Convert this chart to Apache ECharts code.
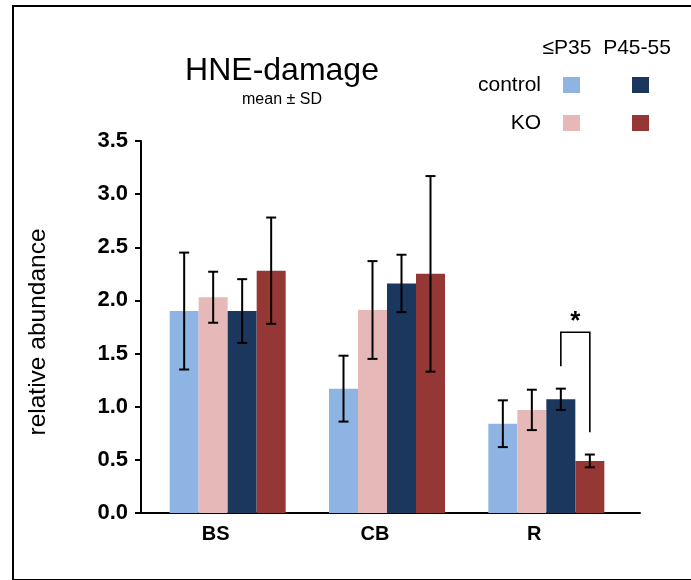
<!DOCTYPE html>
<html>
<head>
<meta charset="utf-8">
<script src="https://cdn.jsdelivr.net/npm/echarts@6/dist/echarts.min.js"></script>
<style>html,body{margin:0;padding:0;background:#fff;}#chart{width:691px;height:580px;}</style>
</head>
<body>
<div id="chart"></div>
<script>
// ---- data ----
const categories = ['BS', 'CB', 'R'];
const controlP35 = [1.90, 1.17, 0.84];
const koP35      = [2.03, 1.91, 0.97];
const controlP45 = [1.90, 2.16, 1.07];
const koP45      = [2.28, 2.25, 0.49];
const sdControlP35 = [0.55, 0.31, 0.22];
const sdKoP35      = [0.24, 0.46, 0.19];
const sdControlP45 = [0.30, 0.27, 0.10];
const sdKoP45      = [0.50, 0.92, 0.06];
const yMin = 0, yMax = 3.5, yStep = 0.5;
// significance bracket: [categoryIndex, seriesFrom, seriesTo, topValue, leftEndValue, rightEndValue, labelValue]
const sigBracket = [2, 2, 3, 1.70, 1.38, 0.76, 1.80];
const sigLabel = '*';
const legendCols = ['≤P35', 'P45-55'];
const legendRows = ['control', 'KO'];

// ---- styles ----
const FONT = 'Liberation Sans, Arial, sans-serif';
const colors = ['#8EB4E3', '#E6B9B8', '#1B375E', '#953735'];
const BAR_W = 29;

const means = [controlP35, koP35, controlP45, koP45];
const sds = [sdControlP35, sdKoP35, sdControlP45, sdKoP45];
const names = ['control ≤P35', 'KO ≤P35', 'control P45-55', 'KO P45-55'];

const errData = [];
means.forEach((arr, k) => arr.forEach((m, i) => errData.push([i, m, sds[k][i], k])));

const barSeries = means.map((arr, k) => ({
  name: names[k], type: 'bar', xAxisIndex: 1, yAxisIndex: 1,
  data: arr, barWidth: BAR_W, barGap: '0%',
  itemStyle: { color: colors[k] }, z: 2
}));

const chart = echarts.init(document.getElementById('chart'), null, { renderer: 'canvas' });
chart.setOption({
  animation: false,
  backgroundColor: '#fff',
  grid: [
    { left: 141, right: 51, top: 141, bottom: 67 },
    { left: 148, right: 65, top: 141, bottom: 67 }
  ],
  xAxis: [
    { gridIndex: 0, type: 'value', min: 0, max: 1,
      axisLine: { show: true, lineStyle: { color: '#000', width: 2 } },
      axisTick: { show: false }, axisLabel: { show: false }, splitLine: { show: false } },
    { gridIndex: 1, type: 'category', data: categories,
      axisLine: { show: false }, axisTick: { show: false },
      axisLabel: { color: '#000', fontSize: 20, fontWeight: 'bold', fontFamily: FONT, margin: 11,
        padding: [0, 24, 0, 0] } }
  ],
  yAxis: [
    { gridIndex: 0, type: 'value', min: yMin, max: yMax, interval: yStep,
      name: 'relative abundance', nameLocation: 'middle', nameGap: 90,
      nameTextStyle: { color: '#000', fontSize: 24.5, fontFamily: FONT, padding: [0, 10, 0, 0] },
      axisLine: { show: true, lineStyle: { color: '#000', width: 2 } },
      axisTick: { show: true, length: 6, lineStyle: { color: '#000', width: 2 } },
      axisLabel: { color: '#000', fontSize: 22, fontWeight: 'bold', fontFamily: FONT, margin: 13,
        formatter: v => v.toFixed(1) },
      splitLine: { show: false } },
    { gridIndex: 1, type: 'value', min: yMin, max: yMax, show: false, splitLine: { show: false } }
  ],
  series: barSeries.concat([
    {
      type: 'custom', xAxisIndex: 1, yAxisIndex: 1, z: 5,
      data: errData, encode: { x: 0, y: 1 },
      renderItem: function (params, api) {
        const cat = api.value(0), m = api.value(1), sd = api.value(2), k = api.value(3);
        const top = api.coord([cat, m + sd]);
        const bot = api.coord([cat, m - sd]);
        const x = top[0] + (k - 1.5) * BAR_W;
        const st = { stroke: '#000', lineWidth: 2 };
        return { type: 'group', children: [
          { type: 'line', shape: { x1: x, y1: top[1], x2: x, y2: bot[1] }, style: st },
          { type: 'line', shape: { x1: x - 5, y1: top[1], x2: x + 5, y2: top[1] }, style: st },
          { type: 'line', shape: { x1: x - 5, y1: bot[1], x2: x + 5, y2: bot[1] }, style: st }
        ] };
      }
    },
    {
      type: 'custom', xAxisIndex: 1, yAxisIndex: 1, z: 5,
      data: [sigBracket], encode: { x: 0, y: 3 },
      renderItem: function (params, api) {
        const cat = api.value(0), k1 = api.value(1), k2 = api.value(2);
        const pTop = api.coord([cat, api.value(3)]);
        const pL = api.coord([cat, api.value(4)]);
        const pR = api.coord([cat, api.value(5)]);
        const pS = api.coord([cat, api.value(6)]);
        const x1 = pTop[0] + (k1 - 1.5) * BAR_W;
        const x2 = pTop[0] + (k2 - 1.5) * BAR_W;
        const st = { stroke: '#000', lineWidth: 1.6, fill: null };
        return { type: 'group', children: [
          { type: 'polyline', shape: { points: [[x1, pL[1]], [x1, pTop[1]], [x2, pTop[1]], [x2, pR[1]]] }, style: st },
          { type: 'text', x: (x1 + x2) / 2, y: pS[1],
            style: { text: sigLabel, fill: '#000', font: 'bold 26px ' + FONT, textAlign: 'center', textVerticalAlign: 'middle' } }
        ] };
      }
    }
  ]),
  graphic: [
    { type: 'rect', shape: { x: 13, y: 6, width: 720, height: 574 }, style: { fill: null, stroke: '#000', lineWidth: 2 }, silent: true },
    { type: 'text', x: 282, y: 71, style: { text: 'HNE-damage', fill: '#000', font: '32px ' + FONT, textAlign: 'center', textVerticalAlign: 'middle' } },
    { type: 'text', x: 282, y: 100, style: { text: 'mean ± SD', fill: '#000', font: '16px ' + FONT, textAlign: 'center', textVerticalAlign: 'middle' } },
    { type: 'text', x: 567, y: 48, style: { text: legendCols[0], fill: '#000', font: '21px ' + FONT, textAlign: 'center', textVerticalAlign: 'middle' } },
    { type: 'text', x: 637, y: 48, style: { text: legendCols[1], fill: '#000', font: '21px ' + FONT, textAlign: 'center', textVerticalAlign: 'middle' } },
    { type: 'text', x: 541, y: 85, style: { text: legendRows[0], fill: '#000', font: '21px ' + FONT, textAlign: 'right', textVerticalAlign: 'middle' } },
    { type: 'text', x: 541, y: 123, style: { text: legendRows[1], fill: '#000', font: '21px ' + FONT, textAlign: 'right', textVerticalAlign: 'middle' } },
    { type: 'rect', shape: { x: 563, y: 77, width: 17, height: 16 }, style: { fill: colors[0] } },
    { type: 'rect', shape: { x: 632, y: 77, width: 17, height: 16 }, style: { fill: colors[2] } },
    { type: 'rect', shape: { x: 563, y: 115, width: 17, height: 16 }, style: { fill: colors[1] } },
    { type: 'rect', shape: { x: 632, y: 115, width: 17, height: 16 }, style: { fill: colors[3] } }
  ]
});
</script>
</body>
</html>
